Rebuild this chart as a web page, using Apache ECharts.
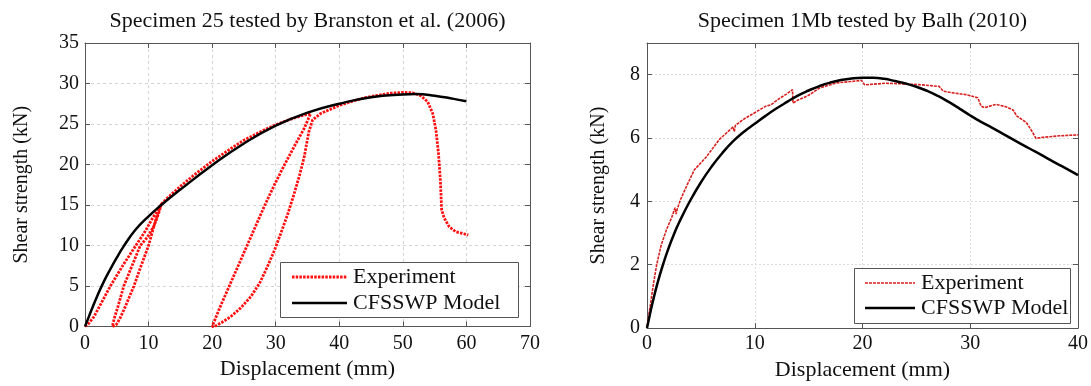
<!DOCTYPE html>
<html>
<head>
<meta charset="utf-8">
<script src="https://cdn.jsdelivr.net/npm/echarts@6/dist/echarts.min.js"></script>
<style>
html,body{margin:0;padding:0;background:#fff;}
#c{width:1091px;height:386px;}
</style>
</head>
<body>
<div id="c"></div>
<script>
// ---------- data ----------
const leftTitle = 'Specimen 25 tested by Branston et al. (2006)';
const rightTitle = 'Specimen 1Mb tested by Balh (2010)';
const seriesNames = ['Experiment', 'CFSSWP Model'];
const xName = 'Displacement (mm)';
const yName = 'Shear strength (kN)';

// Left: Branston et al. (2006) – experiment (loading / unloading loops, in test order)
const leftExperiment = [
  [0,0],[0.5,0.3],[1.4,1.2],[2.5,2.8],[4,5],[6,7.6],[8,10],[9.5,11.8],[10.5,13.2],[11.5,14.5],[12,15.1],
  [11.6,14.0],[10.9,12.5],[9.8,11],[8.7,10],[7.4,7.5],[6.1,5],[5.2,2.5],[4.6,1],[4.3,0],
  [4.9,0.2],[5.5,1],[6.2,2.2],[7,3.7],[7.7,5],[8.5,6.8],[9.3,8.5],[10,10],[10.6,11.7],[11.1,13.1],[11.6,14.3],[12.1,15.2],
  [13,15.9],[15,17.3],[17,18.6],[20,20.4],[23,22],[25,23],[28,24.2],[30,24.9],[32,25.5],[34,26],[35.5,26.3],
  [34.5,24.5],[33.1,22.5],[31.4,20],[29.8,17.5],[28.3,15],[26.9,12.5],[25.5,10],[24.1,7.5],[22.7,5],[21.3,2.5],[20,0],
  [20.4,0],[21.5,0.5],[22.9,1.2],[24.5,2.3],[26.1,3.7],[27.5,5.4],[28.7,7.4],[29.8,9.4],[30.8,11.5],[31.9,13.9],
  [32.9,16.4],[33.8,18.8],[34.5,21],[35.2,24],[35.8,25.5],
  [37.1,26.3],[40,27.3],[42,27.8],[44,28.25],[46.5,28.6],[48,28.8],[50,28.9],[51.5,28.85],[52.8,28.5],
  [53.9,27.75],[54.7,26.3],[55.2,24.3],[55.6,21.4],[55.9,18.1],[56.1,14.4],[56.5,13.4],[57.3,12.3],[58.3,11.7],[60.3,11.3]
];
// Left: CFSSWP model
const leftModel = [
  [0,0],[0.5,1.0],[1,2.0],[2,3.9],[3,5.6],[4,7.1],[5,8.5],[6,9.8],[8,12.0],[10,13.6],[12,15.0],[15,16.9],
  [20,19.9],[25,22.6],[30,24.8],[35,26.4],[40,27.5],[45,28.3],[50,28.65],[52,28.7],[55,28.5],[58,28.1],[60,27.8]
];

// Right: Balh (2010) – experiment
const rightExperiment = [
  [0,0.05],[0.3,0.7],[0.6,1.4],[0.9,2.0],[1.3,2.6],[1.8,3.1],[2.3,3.5],[2.6,3.8],[2.7,3.6],[2.8,3.75],[3.1,4.05],
  [3.7,4.5],[4.4,5.0],[5.5,5.4],[6.7,5.95],[7.5,6.2],[8.0,6.35],[8.1,6.2],[8.2,6.4],[9,6.6],[10,6.8],[11,7.0],
  [11.5,7.05],[12.3,7.25],[13,7.4],[13.5,7.53],[13.55,7.1],[14,7.2],[14.5,7.27],[15,7.35],[16,7.58],[17.6,7.74],
  [19.1,7.79],[19.9,7.82],[20.2,7.68],[22.2,7.73],[24.4,7.7],[25.5,7.68],[27.1,7.63],[27.5,7.48],[28.5,7.42],
  [29.6,7.37],[30.7,7.27],[31.0,7.01],[31.3,6.96],[32.4,7.06],[33.3,6.99],[34.0,6.88],[34.3,6.7],[35.2,6.49],
  [35.7,6.23],[36.1,5.99],[36.7,6.02],[38.3,6.07],[40,6.1]
];
// Right: CFSSWP model
const rightModel = [
  [0,0],[0.25,0.4],[0.5,0.78],[1,1.45],[1.5,2.02],[2,2.52],[2.5,2.96],[3,3.35],[4,4.02],[5,4.6],[6,5.1],
  [7,5.53],[8,5.9],[9,6.2],[10,6.45],[11,6.7],[12,6.93],[13,7.14],[14,7.34],[15,7.5],[16,7.64],[17,7.75],
  [18,7.83],[19,7.88],[20,7.9],[21,7.9],[22,7.87],[23,7.8],[24,7.72],[25,7.62],[26,7.49],[27,7.33],[28,7.14],
  [29,6.93],[30,6.71],[31,6.51],[32,6.33],[33,6.14],[34,5.95],[35,5.76],[36,5.58],[37,5.39],[38,5.2],[39,5.02],[40,4.83]
];

// ---------- styles ----------
const FONT = '"Liberation Serif", "Times New Roman", serif';
const TXT = '#111';
const FRAME = '#555';
const expLeftStyle = { color: '#ff1010', width: 2.8, type: [2.5, 1.2] };
const expRightStyle = { color: '#d82020', width: 1.6, type: [3, 1] };
const modelStyle = { color: '#000', width: 2.5 };

function baseAxis(gi, min, max, interval) {
  return {
    gridIndex: gi, type: 'value', min, max, interval,
    axisLine: { show: true, onZero: false, lineStyle: { color: FRAME, width: 1 } },
    axisTick: { show: true, inside: true, length: 5, lineStyle: { color: FRAME } }
  };
}
function mkX(gi, min, max, interval, gridColor, gridType, margin, nameGap) {
  const base = baseAxis(gi, min, max, interval);
  return [
    Object.assign({}, base, {
      position: 'bottom',
      name: xName, nameLocation: 'middle', nameGap: nameGap,
      nameTextStyle: { fontFamily: FONT, fontSize: 22, color: TXT },
      axisLabel: { fontFamily: FONT, fontSize: 20, color: TXT, margin: margin },
      splitLine: { show: true, lineStyle: { color: gridColor, type: gridType, width: 1 } }
    }),
    Object.assign({}, base, { position: 'top', axisLabel: { show: false }, splitLine: { show: false } })
  ];
}
function mkY(gi, min, max, interval, gridColor, gridType, margin, nameGap, hideMax) {
  const base = baseAxis(gi, min, max, interval);
  return [
    Object.assign({}, base, {
      position: 'left',
      name: yName, nameLocation: 'middle', nameGap: nameGap,
      nameTextStyle: { fontFamily: FONT, fontSize: 20, color: TXT },
      axisLabel: { fontFamily: FONT, fontSize: 20, color: TXT, margin: margin,
        formatter: v => (hideMax && v === max) ? '' : String(v) },
      splitLine: { show: true, lineStyle: { color: gridColor, type: gridType, width: 1 } }
    }),
    Object.assign({}, base, { position: 'right', axisLabel: { show: false }, splitLine: { show: false } })
  ];
}

const xAxes = [].concat(
  mkX(0, 0, 70, 10, '#d4d4d4', [3, 3], 7, 30),
  mkX(1, 0, 40, 10, '#dcdcdc', [2, 2], 6, 30)
);
const yAxes = [].concat(
  mkY(0, 0, 35, 5, '#d4d4d4', [3, 3], 6, 53, false),
  mkY(1, 0, 9, 2, '#dcdcdc', [2, 2], 7, 38, true)
);

// legend boxes drawn as graphics
function legendBox(x, y, w, h, sampleX, sampleW, textX, row1, row2, expStyle) {
  const txt = (t, cy) => ({
    type: 'text', x: textX, y: cy, z: 100,
    style: { text: t, font: '22px ' + FONT, fill: TXT, textVerticalAlign: 'middle', verticalAlign: 'middle' }
  });
  return [
    { type: 'rect', shape: { x: x + 0.5, y: y + 0.5, width: w, height: h }, z: 99,
      style: { fill: '#fff', stroke: FRAME, lineWidth: 1 } },
    { type: 'line', shape: { x1: sampleX, y1: row1, x2: sampleX + sampleW, y2: row1 }, z: 100,
      style: { stroke: expStyle.color, lineWidth: expStyle.width, lineDash: expStyle.type } },
    { type: 'line', shape: { x1: sampleX, y1: row2, x2: sampleX + sampleW, y2: row2 }, z: 100,
      style: { stroke: modelStyle.color, lineWidth: modelStyle.width } },
    txt(seriesNames[0], row1),
    txt(seriesNames[1], row2)
  ];
}

const option = {
  animation: false,
  backgroundColor: '#fff',
  title: [
    { text: leftTitle, left: 307.5, top: 10, textAlign: 'center', padding: 0,
      textStyle: { fontFamily: FONT, fontSize: 22, fontWeight: 'normal', color: TXT } },
    { text: rightTitle, left: 862.5, top: 10, textAlign: 'center', padding: 0,
      textStyle: { fontFamily: FONT, fontSize: 22, fontWeight: 'normal', color: TXT } }
  ],
  grid: [
    { left: 85, top: 43, width: 445, height: 283.5 },
    { left: 647, top: 43, width: 431, height: 289 }
  ],
  xAxis: xAxes,
  yAxis: yAxes,
  graphic: [].concat(
    legendBox(280, 262, 238, 55, 292, 55, 353, 277, 303, expLeftStyle),
    legendBox(854, 268, 216, 55, 865, 50, 921, 283, 308, expRightStyle)
  ),
  series: [
    { name: seriesNames[0], type: 'line', xAxisIndex: 0, yAxisIndex: 0, data: leftExperiment,
      showSymbol: false, symbol: 'none', smooth: false, z: 3, lineStyle: expLeftStyle },
    { name: seriesNames[1], type: 'line', xAxisIndex: 0, yAxisIndex: 0, data: leftModel,
      showSymbol: false, symbol: 'none', smooth: true, z: 4, lineStyle: modelStyle },
    { name: seriesNames[0], type: 'line', xAxisIndex: 2, yAxisIndex: 2, data: rightExperiment,
      showSymbol: false, symbol: 'none', smooth: false, z: 3, lineStyle: expRightStyle },
    { name: seriesNames[1], type: 'line', xAxisIndex: 2, yAxisIndex: 2, data: rightModel,
      showSymbol: false, symbol: 'none', smooth: true, z: 4, lineStyle: modelStyle }
  ]
};

const chart = echarts.init(document.getElementById('c'), null, { renderer: 'canvas' });
chart.setOption(option);
</script>
</body>
</html>
